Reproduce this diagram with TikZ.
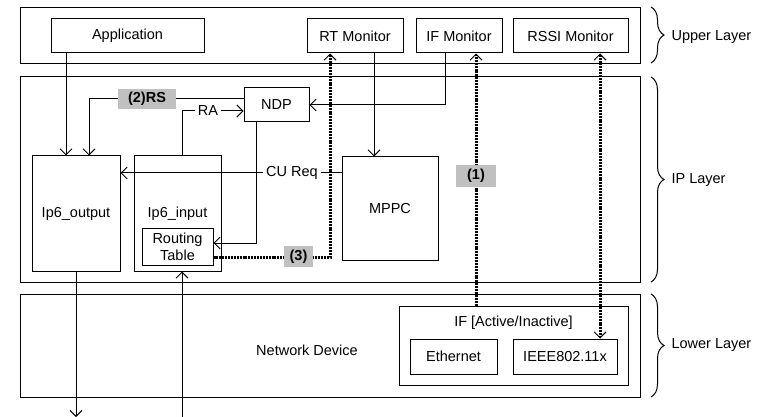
\documentclass[tikz,border=0pt]{standalone}
\usepackage{fontspec}
\setmainfont{Liberation Sans}
\usetikzlibrary{arrows.meta,decorations.pathreplacing}
\definecolor{lblgray}{RGB}{192,192,192}
\begin{document}
\begin{tikzpicture}[x=1pt,y=-1pt,
  every node/.style={font=\fontsize{14.5}{16}\selectfont},
  box/.style={draw, line width=1pt, inner sep=0pt},
  arr/.style={line width=1pt, -{Straight Barb[length=6pt,width=12pt,line width=1pt]}},
  ln/.style={line width=1pt},
  dotln/.style={line width=3pt, dash pattern=on 2pt off 0.9pt},
  dotarr/.style={dotln, -{Straight Barb[length=6pt,width=12pt,line width=1pt]}},
  dotarrs/.style={dotln, {Straight Barb[length=6pt,width=12pt,line width=1pt]}-{Straight Barb[length=6pt,width=12pt,line width=1pt]}},
  tag/.style={fill=lblgray, inner sep=0pt, font=\fontsize{14.5}{16}\selectfont\bfseries},
  gap/.style={fill=white, inner xsep=3pt, inner ysep=1pt},
  brc/.style={line width=1pt, decorate, decoration={brace, amplitude=13pt}}
]
\useasboundingbox (0,0) rectangle (769,417);

% layer frames
\node[box, minimum width=620, minimum height=56] (upper) at (330,36) {};
\node[box, minimum width=620, minimum height=205] (ip) at (330,179.5) {};
\node[box, minimum width=620, minimum height=103] (lower) at (330,345.5) {};

% upper layer boxes
\node[box, minimum width=153, minimum height=34] (app) at (127.5,36) {Application};
\node[box, minimum width=96, minimum height=34] (rtm) at (355,36) {RT Monitor};
\node[box, minimum width=86, minimum height=34] (ifm) at (459,36) {IF Monitor};
\node[box, minimum width=115, minimum height=34] (rssi) at (570.5,36) {RSSI Monitor};

% IP layer boxes
\node[box, minimum width=65, minimum height=34] (ndp) at (276.5,105) {NDP};
\node[box, minimum width=88, minimum height=115] (out) at (76,213.5) {Ip6\_output};
\node[box, minimum width=87, minimum height=115] (in) at (177.5,213.5) {};
\node (inlbl) at (177.5,214) {Ip6\_input};
\node[box, minimum width=71, minimum height=37, align=center, font=\fontsize{14.5}{17}\selectfont] (rt) at (177.5,246.5) {Routing\\Table};
\node[box, minimum width=96, minimum height=103] (mppc) at (390,208.5) {MPPC};

% lower layer
\node (netdev) at (307,350) {Network Device};
\node[box, minimum width=229, minimum height=79] (ifbox) at (513.5,345.5) {};
\node (iflbl) at (513.5,323) {IF [Active/Inactive]};
\node[box, minimum width=87, minimum height=35] (eth) at (453.5,356.5) {Ethernet};
\node[box, minimum width=104, minimum height=35] (ieee) at (565,356.5) {IEEE802.11x};

% braces and layer names
\coordinate (b1t) at (651,7);   \coordinate (b1b) at (651,63);
\coordinate (b2t) at (651,77);  \coordinate (b2b) at (651,282);
\coordinate (b3t) at (651,294); \coordinate (b3b) at (651,397);
\draw[brc] (b1t) -- (b1b);
\draw[brc] (b2t) -- (b2b);
\draw[brc] (b3t) -- (b3b);
\node[anchor=west] (lu) at (668,37) {Upper Layer};
\node[anchor=west] (li) at (668,180) {IP Layer};
\node[anchor=west] (ll) at (668,345) {Lower Layer};

% helper coordinates
\coordinate (xApp) at (66,0);
\coordinate (xRS) at (89,0);   \coordinate (yRS) at (0,99);
\coordinate (xRA) at (182,0);  \coordinate (yRA) at (0,111);
\coordinate (xND) at (256,0);  \coordinate (yND) at (0,243);
\coordinate (xIF) at (445,0);  \coordinate (yIF) at (0,105);
\coordinate (xRT) at (374,0);
\coordinate (yCU) at (0,173);
\coordinate (xD3) at (330,0);  \coordinate (yD3) at (0,257);
\coordinate (xD1) at (476,0);
\coordinate (xD2) at (600,0);
\coordinate (outEnd) at (76,417);
\coordinate (inStart) at (182,417);

% connectors
\draw[arr] (app.south -| xApp) -- (out.north -| xApp);
\draw[arr] (ndp.west |- yRS) -- (xRS |- yRS) -- (out.north -| xRS);
\draw[arr] (in.north -| xRA) -- (xRA |- yRA) -- (ndp.west |- yRA);
\draw[arr] (ndp.south -| xND) -- (xND |- yND) -- (rt.east |- yND);
\draw[arr] (ifm.south -| xIF) -- (xIF |- yIF) -- (ndp.east |- yIF);
\draw[arr] (rtm.south -| xRT) -- (mppc.north -| xRT);
\draw[arr] (mppc.west |- yCU) -- (out.east |- yCU);
\draw[arr] (out.south) -- (outEnd);
\draw[arr] (inStart) -- (in.south -| inStart);

\draw[dotarr] (rt.east |- yD3) -- (xD3 |- yD3) -- (rtm.south -| xD3);
\draw[dotarr] (ifbox.north -| xD1) -- (ifm.south -| xD1);
\draw[dotarrs] (rssi.south -| xD2) -- (ieee.north -| xD2);

% connector labels
\node[tag, minimum width=58, minimum height=20] (rs) at (147,99) {(2)RS};
\node[gap] (ra) at (208,111) {RA};
\node[gap] (cu) at (292,173) {CU Req};
\node[tag, minimum width=29, minimum height=21] (t3) at (298.5,256.5) {(3)};
\node[tag, minimum width=40, minimum height=22] (t1) at (476,176) {(1)};
\end{tikzpicture}
\end{document}
